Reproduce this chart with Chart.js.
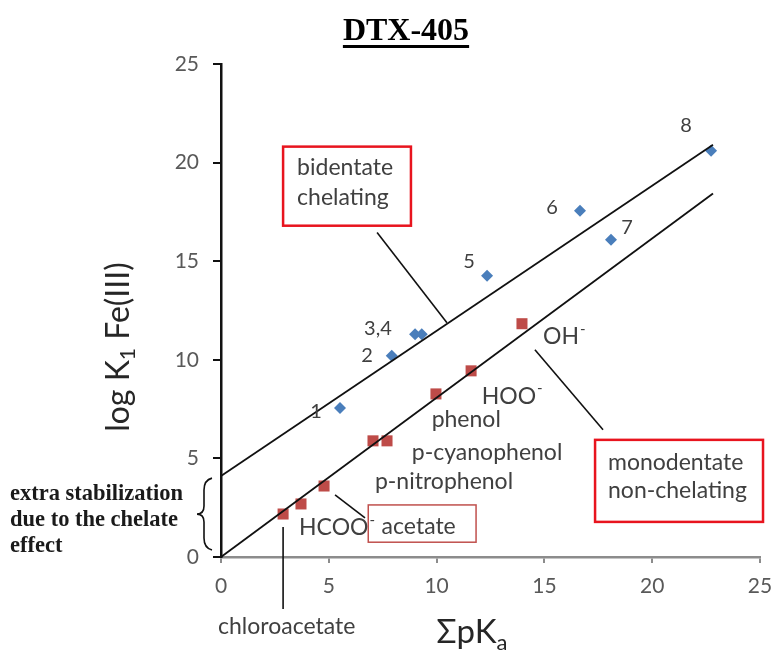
<!DOCTYPE html>
<html><head><meta charset="utf-8">
<script src="https://cdn.jsdelivr.net/npm/chart.js@4.4.0/dist/chart.umd.min.js"></script>
<style>html,body{margin:0;padding:0;background:#fff;}canvas{display:block;}</style>
</head><body>
<canvas id="c" width="773" height="652"></canvas>
<script>
// ---------- data ----------
const chartTitle = 'DTX-405';
const xTicks = [0, 5, 10, 15, 20, 25];
const yTicks = [0, 5, 10, 15, 20, 25];

// bidentate chelating ligands (blue diamonds)
const chelX = [5.52, 7.92, 9.00, 9.31, 12.34, 16.65, 18.09, 22.73];
const chelY = [7.56, 10.20, 11.30, 11.30, 14.26, 17.56, 16.09, 20.60];
const chelNames = ['1', '2', '3,4', '5', '6', '7', '8'];

// monodentate non-chelating ligands (red squares)
const monoNames = ['chloroacetate', 'HCOO⁻', 'acetate', 'p-nitrophenol', 'p-cyanophenol', 'phenol', 'HOO⁻', 'OH⁻'];
const monoX = [2.88, 3.71, 4.78, 7.05, 7.70, 9.97, 11.60, 13.96];
const monoY = [2.18, 2.69, 3.60, 5.89, 5.89, 8.27, 9.44, 11.83];

// trend lines
const chelFitX = [0, 22.82];
const chelFitY = [4.11, 20.91];
const monoFitX = [0, 22.82];
const monoFitY = [0, 18.43];

// callout leader lines [x1, y1, x2, y2] in data units
const leaderBident = [7.24, 16.45, 10.48, 11.88];
const leaderMono = [14.56, 10.51, 17.72, 6.45];
const leaderAcetate = [5.29, 3.15, 6.68, 1.98];
const leaderChloro = [2.88, 1.52, 2.88, -2.64];

const sideNote = ['extra stabilization', 'due to the chelate', 'effect'];
const xTitle = ['ΣpK', 'a'];
const yTitle = ['log K', '1', ' Fe(III)'];

// ---------- layout of annotations (data units) ----------
const numberLabelPos = [[4.41, 7.36], [6.77, 10.20], [7.28, 11.57], [11.50, 14.97], [15.35, 17.72], [18.83, 16.70], [21.57, 21.88]];
const monoLabelPos = { 'chloroacetate': [-0.14, -3.55], 'HCOO⁻': [3.62, 1.47], 'p-nitrophenol': [7.14, 3.82],
  'p-cyanophenol': [8.85, 5.28], 'phenol': [9.77, 6.95], 'HOO⁻': [12.09, 8.14], 'OH⁻': [14.94, 11.17] };
const boxes = [
  { lines: ['bidentate', 'chelating'], box: [2.88, 20.81, 8.81, 16.80], text: [3.53, 19.75, 18.22], color: '#e8141e', lw: 2.5 },
  { lines: ['monodentate', 'non-chelating'], box: [17.35, 5.94, 25.14, 1.78], text: [17.95, 4.77, 3.35], color: '#e8141e', lw: 2.5 },
  { lines: ['acetate'], box: [6.83, 2.64, 11.83, 0.75], text: [7.45, 1.55], color: '#c0504d', lw: 1.5 }
];
const sideNoteY = [3.2, 1.88, 0.56];
const braceY = [4.0, 0.35];

const pts = (xs, ys) => xs.map((v, i) => ({ x: v, y: ys[i] }));
const seg = s => [{ x: s[0], y: s[1] }, { x: s[2], y: s[3] }];
const lineDs = (data, w) => ({ type: 'line', data, borderColor: '#111', borderWidth: w, pointRadius: 0, fill: false, clip: false, showLine: true });

const annot = {
  id: 'annot',
  afterDraw(chart) {
    const { ctx, chartArea: ca, scales: { x, y } } = chart;
    const px = v => x.getPixelForValue(v), py = v => y.getPixelForValue(v);
    ctx.save();
    // title
    ctx.fillStyle = '#000';
    ctx.font = 'bold 32px "Liberation Serif"';
    ctx.textAlign = 'center'; ctx.textBaseline = 'alphabetic';
    const tcx = 406, tby = 40;
    ctx.fillText(chartTitle, tcx, tby);
    const tw = ctx.measureText(chartTitle).width;
    ctx.fillRect(tcx - tw / 2, tby + 5, tw, 3);

    const wf = '23px Lato';
    // boxes
    boxes.forEach(b => {
      ctx.strokeStyle = b.color; ctx.lineWidth = b.lw;
      const x1 = px(b.box[0]), y1 = py(b.box[1]), x2 = px(b.box[2]), y2 = py(b.box[3]);
      ctx.fillStyle = '#fff';
      ctx.fillRect(x1, y1, x2 - x1, y2 - y1);
      ctx.strokeRect(x1, y1, x2 - x1, y2 - y1);
      ctx.fillStyle = '#404040'; ctx.font = wf; ctx.textAlign = 'left'; ctx.textBaseline = 'middle';
      b.lines.forEach((l, i) => ctx.fillText(l, px(b.text[0]), py(b.text[i + 1])));
    });

    // number labels
    ctx.fillStyle = '#404040';
    ctx.font = '20px Lato';
    ctx.textAlign = 'center'; ctx.textBaseline = 'middle';
    chelNames.forEach((n, i) => ctx.fillText(n, px(numberLabelPos[i][0]), py(numberLabelPos[i][1])));

    // mono labels
    ctx.textAlign = 'left';
    const drawSup = (t, X, Y) => {
      let sup = '';
      if (t.endsWith('⁻')) { sup = '-'; t = t.slice(0, -1); }
      ctx.font = wf;
      ctx.fillText(t, X, Y);
      if (sup) {
        const w = ctx.measureText(t).width;
        ctx.font = '15px Lato';
        ctx.fillText(sup, X + w + 1, Y - 8);
        ctx.font = wf;
      }
    };
    monoNames.forEach(n => {
      const p = monoLabelPos[n];
      if (p) drawSup(n, px(p[0]), py(p[1]));
    });

    // side note
    ctx.fillStyle = '#1a1a1a';
    ctx.font = 'bold 22.5px "Liberation Serif"';
    ctx.textAlign = 'left'; ctx.textBaseline = 'middle';
    sideNote.forEach((l, i) => ctx.fillText(l, 10, py(sideNoteY[i])));

    // brace
    const bt = py(braceY[0]), bb = py(braceY[1]), bm = (bt + bb) / 2;
    const xr = ca.left - 9, xc = ca.left - 17, xl = ca.left - 24;
    ctx.strokeStyle = '#111'; ctx.lineWidth = 1.6;
    ctx.beginPath();
    ctx.moveTo(xr, bt);
    ctx.quadraticCurveTo(xc, bt + 2, xc, bt + 12);
    ctx.lineTo(xc, bm - 8);
    ctx.quadraticCurveTo(xc, bm, xl, bm);
    ctx.quadraticCurveTo(xc, bm, xc, bm + 8);
    ctx.lineTo(xc, bb - 12);
    ctx.quadraticCurveTo(xc, bb - 2, xr, bb);
    ctx.stroke();

    // axis titles
    ctx.fillStyle = '#262626';
    ctx.textBaseline = 'alphabetic'; ctx.textAlign = 'left';
    // x title
    let big = '33px Lato', small = '22px Lato';
    ctx.font = big; const w1 = ctx.measureText(xTitle[0]).width;
    ctx.font = small; const w2 = ctx.measureText(xTitle[1]).width;
    const xs = 472 - (w1 + w2) / 2, xb = 643;
    ctx.font = big; ctx.fillText(xTitle[0], xs, xb);
    ctx.font = small; ctx.fillText(xTitle[1], xs + w1, xb + 7);
    // y title
    big = '32px Lato'; small = '21px Lato';
    ctx.save();
    ctx.translate(129, 347);
    ctx.rotate(-Math.PI / 2);
    ctx.font = big; const a = ctx.measureText(yTitle[0]).width, c = ctx.measureText(yTitle[2]).width;
    ctx.font = small; const b2 = ctx.measureText(yTitle[1]).width;
    let sx = -(a + b2 + c) / 2;
    ctx.font = big; ctx.fillText(yTitle[0], sx, 0);
    ctx.font = small; ctx.fillText(yTitle[1], sx + a, 6);
    ctx.font = big; ctx.fillText(yTitle[2], sx + a + b2, 0);
    ctx.restore();
    ctx.restore();
  }
};

new Chart(document.getElementById('c'), {
  type: 'scatter',
  data: {
    datasets: [
      lineDs(pts(chelFitX, chelFitY), 1.8),
      lineDs(pts(monoFitX, monoFitY), 1.8),
      lineDs(seg(leaderBident), 1.6),
      lineDs(seg(leaderMono), 1.6),
      lineDs(seg(leaderAcetate), 1.6),
      lineDs(seg(leaderChloro), 1.6),
      { label: 'chelating', data: pts(chelX, chelY), pointStyle: 'rectRot', pointRadius: 6, backgroundColor: '#4a7ebb', borderColor: '#4a7ebb', borderWidth: 0 },
      { label: 'non-chelating', data: pts(monoX, monoY), pointStyle: 'rect', pointRadius: 7.8, backgroundColor: '#be4b48', borderColor: '#be4b48', borderWidth: 0 }
    ]
  },
  options: {
    responsive: false,
    animation: false,
    events: [],
    layout: { padding: { left: 0, right: 13, top: 64, bottom: 0 } },
    plugins: { legend: { display: false }, tooltip: { enabled: false }, title: { display: false } },
    scales: {
      x: {
        type: 'linear', min: 0, max: 25,
        afterBuildTicks: s => { s.ticks = xTicks.map(v => ({ value: v })); },
        afterFit: s => { s.height = 95; s.paddingLeft = 0; s.paddingRight = 0; },
        ticks: { color: '#595959', font: { family: 'Lato', size: 21 }, padding: 11 },
        grid: { drawOnChartArea: false, drawTicks: true, tickLength: 6, color: '#8c8c8c', lineWidth: 2 },
        border: { color: '#8c8c8c', width: 2.5 }
      },
      y: {
        type: 'linear', min: 0, max: 25,
        afterBuildTicks: s => { s.ticks = yTicks.map(v => ({ value: v })); },
        afterFit: s => { s.width = 221; s.paddingTop = 0; s.paddingBottom = 0; },
        ticks: { color: '#595959', font: { family: 'Lato', size: 21 }, padding: 14 },
        grid: { drawOnChartArea: false, drawTicks: true, tickLength: 8, color: '#111', lineWidth: 2 },
        border: { color: '#111', width: 2.5 }
      }
    }
  },
  plugins: [annot]
});
</script>
</body></html>
